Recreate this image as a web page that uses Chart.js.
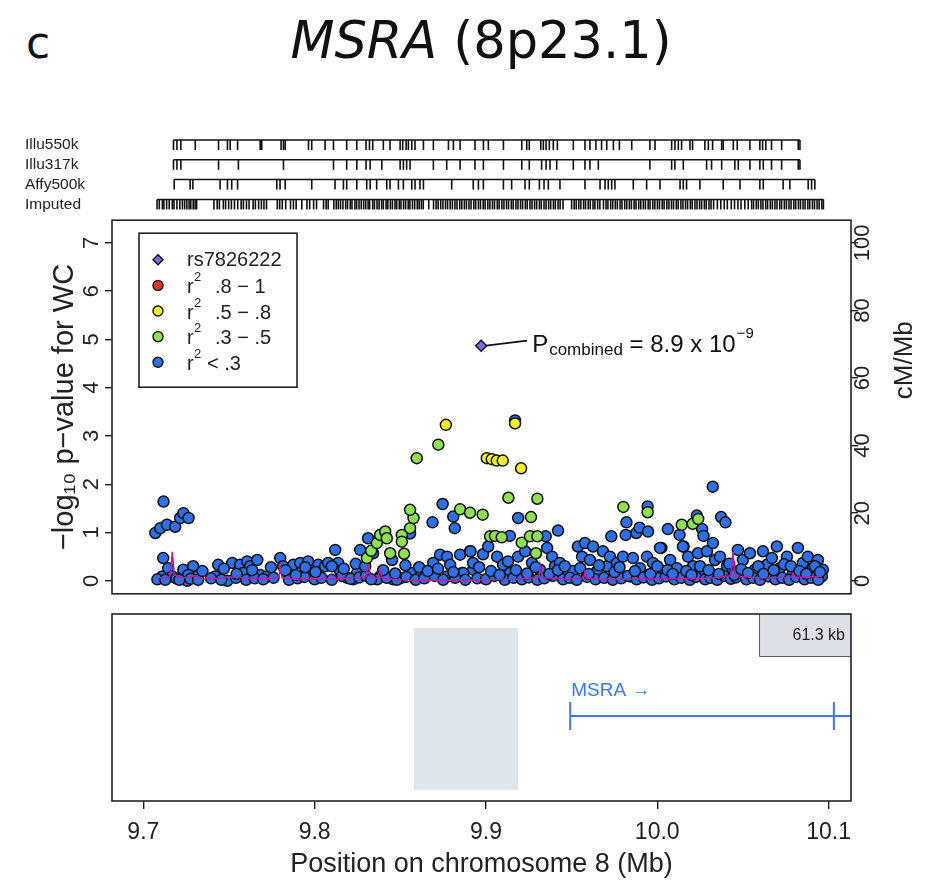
<!DOCTYPE html>
<html>
<head>
<meta charset="utf-8">
<script src="https://cdn.jsdelivr.net/npm/chart.js@4.4.1/dist/chart.umd.min.js"></script>
<style>
  body { margin: 0; background: #fff; width: 935px; height: 885px; position: relative; overflow: hidden; font-family: 'DejaVu Sans', Verdana, sans-serif; color: #111; }
  .panel { position: absolute; left: 0; width: 935px; }
  #panelLabel { position: absolute; left: 26px; top: 17px; font-size: 44px; }
  #title { position: absolute; left: 0; width: 962px; top: 11px; text-align: center; font-size: 51px; }
</style>
</head>
<body>
<div id="panelLabel">c</div>
<div id="title"><i>MSRA</i> (8p23.1)</div>
<div class="panel" style="top:115px;height:111px"><canvas id="tracks" width="935" height="111"></canvas></div>
<div class="panel" style="top:200px;height:414px"><canvas id="assoc" width="935" height="414"></canvas></div>
<div class="panel" style="top:600px;height:285px"><canvas id="genes" width="935" height="285"></canvas></div>
<script>
// ---- data ----
const trackNames = ['Illu550k', 'Illu317k', 'Affy500k', 'Imputed'];

const illu550k = [9.7176, 9.7196, 9.7219, 9.7303, 9.7439, 9.7491, 9.7507, 9.7550, 9.7682, 9.7691,
  9.7804, 9.7818, 9.7828, 9.7964, 9.7983, 9.8061, 9.8110, 9.8187, 9.8246, 9.8300, 9.8320, 9.8339,
  9.8401, 9.8440, 9.8499, 9.8514, 9.8534, 9.8547, 9.8567, 9.8586, 9.8635, 9.8693, 9.8781, 9.8810,
  9.8849, 9.8936, 9.8985, 9.9014, 9.9102, 9.9209, 9.9238, 9.9253, 9.9320, 9.9335, 9.9351, 9.9370,
  9.9393, 9.9417, 9.9510, 9.9578, 9.9607, 9.9642, 9.9675, 9.9705, 9.9744, 9.9779, 9.9851, 9.9957,
  9.9987, 10.0084, 10.0103, 10.0123, 10.0142, 10.0191, 10.0206, 10.0278, 10.0298, 10.0323, 10.0376,
  10.0385, 10.0444, 10.0467, 10.0541, 10.0599, 10.0615, 10.0634, 10.0667, 10.0726, 10.0823, 10.0833];

const illu317k = [9.7176, 9.7196, 9.7219, 9.7439, 9.7555, 9.7818, 9.8110, 9.8187, 9.8246, 9.8300,
  9.8324, 9.8392, 9.8499, 9.8518, 9.8537, 9.8557, 9.8693, 9.8771, 9.8849, 9.8936, 9.8985, 9.9102,
  9.9209, 9.9253, 9.9325, 9.9351, 9.9374, 9.9413, 9.9510, 9.9578, 9.9607, 9.9656, 9.9957, 10.0084,
  10.0103, 10.0152, 10.0288, 10.0317, 10.0376, 10.0453, 10.0473, 10.0541, 10.0599, 10.0619, 10.0667,
  10.0726, 10.0823, 10.0833];

const affy500k = [9.7180, 9.7273, 9.7289, 9.7448, 9.7491, 9.7516, 9.7550, 9.7779, 9.7798, 9.7828,
  9.7983, 9.8119, 9.8168, 9.8187, 9.8246, 9.8304, 9.8324, 9.8362, 9.8421, 9.8440, 9.8489, 9.8518,
  9.8567, 9.8586, 9.8615, 9.8635, 9.8800, 9.8926, 9.8956, 9.8985, 9.9102, 9.9150, 9.9228, 9.9253,
  9.9312, 9.9339, 9.9364, 9.9432, 9.9578, 9.9666, 9.9695, 9.9714, 9.9734, 9.9753, 9.9860, 9.9938,
  10.0016, 10.0133, 10.0152, 10.0171, 10.0249, 10.0385, 10.0483, 10.0599, 10.0619, 10.0735, 10.0774,
  10.0881, 10.0901, 10.0920];

const imputed = [9.7080, 9.7093, 9.7111, 9.7120, 9.7136, 9.7151, 9.7169, 9.7179, 9.7196, 9.7213,
  9.7228, 9.7241, 9.7254, 9.7267, 9.7277, 9.7291, 9.7302, 9.7311,
  9.7412, 9.7431, 9.7444, 9.7467, 9.7480, 9.7498, 9.7514, 9.7532, 9.7551, 9.7571, 9.7584, 9.7602,
  9.7617, 9.7641, 9.7654, 9.7673, 9.7689, 9.7704, 9.7719,
  9.7782, 9.7796, 9.7811, 9.7831, 9.7859, 9.7876, 9.7892, 9.7925, 9.7955, 9.7971, 9.7994, 9.8011,
  9.8052, 9.8067, 9.8079,
  9.8112, 9.8126, 9.8138, 9.8151, 9.8165, 9.8181, 9.8192, 9.8208, 9.8218, 9.8235, 9.8245, 9.8259,
  9.8272, 9.8286, 9.8298, 9.8312, 9.8321, 9.8339, 9.8349, 9.8364, 9.8376, 9.8391, 9.8401, 9.8417,
  9.8427, 9.8442, 9.8454, 9.8469, 9.8479, 9.8494, 9.8504, 9.8519, 9.8531, 9.8546, 9.8556, 9.8571,
  9.8584, 9.8599, 9.8610, 9.8623, 9.8634,
  9.8666, 9.8694, 9.8709, 9.8721, 9.8736, 9.8749, 9.8764, 9.8776, 9.8791, 9.8804, 9.8819, 9.8831,
  9.8847, 9.8859, 9.8874, 9.8886, 9.8901, 9.8913, 9.8929, 9.8940, 9.8956, 9.8968, 9.8984, 9.8995,
  9.9011, 9.9023, 9.9038, 9.9050, 9.9066, 9.9077, 9.9093, 9.9105, 9.9120, 9.9132, 9.9148, 9.9159,
  9.9175, 9.9187, 9.9202, 9.9214, 9.9230, 9.9241, 9.9257, 9.9269, 9.9284, 9.9296, 9.9312, 9.9323,
  9.9339, 9.9351, 9.9366, 9.9378, 9.9394, 9.9405, 9.9421, 9.9433, 9.9450,
  9.9500, 9.9515, 9.9527, 9.9542, 9.9554, 9.9570, 9.9581, 9.9597, 9.9609, 9.9625, 9.9636, 9.9652,
  9.9665,
  9.9686, 9.9701, 9.9712, 9.9728, 9.9740, 9.9755, 9.9767, 9.9783, 9.9794, 9.9810, 9.9822, 9.9837,
  9.9849, 9.9865, 9.9876, 9.9892, 9.9904, 9.9919, 9.9931, 9.9947, 9.9958, 9.9974, 9.9986, 10.0001,
  10.0013, 10.0029, 10.0040, 10.0056, 10.0068, 10.0083, 10.0095, 10.0111, 10.0122, 10.0138, 10.0150,
  10.0165, 10.0177, 10.0193, 10.0204, 10.0220, 10.0232, 10.0247, 10.0259, 10.0275, 10.0286, 10.0302,
  10.0314, 10.0329, 10.0351, 10.0371, 10.0391, 10.0409, 10.0432, 10.0451, 10.0471, 10.0489, 10.0511,
  10.0531, 10.0551, 10.0562, 10.0578, 10.0590, 10.0605, 10.0617, 10.0633, 10.0644, 10.0660, 10.0672,
  10.0687, 10.0699, 10.0715, 10.0726, 10.0742, 10.0754, 10.0769, 10.0781, 10.0797, 10.0808, 10.0824,
  10.0836, 10.0851, 10.0863, 10.0879, 10.0890, 10.0906, 10.0918, 10.0933, 10.0945, 10.0961, 10.0970];

const trackPositions = [illu550k, illu317k, affy500k, imputed];

// association results: [position Mb, -log10 p]
const leadSnp = [[9.8972, 4.87]];

const ldHigh = [];   // r2 .8 - 1 (none in this region)

const ldMidHigh = [[9.8766, 3.23], [9.9170, 3.26], [9.9005, 2.54], [9.9034, 2.52], [9.9063, 2.49],
  [9.9098, 2.49], [9.9205, 2.33]];

const ldMid = [[9.8305, 0.47], [9.8330, 0.62], [9.8363, 0.78], [9.8382, 0.95], [9.8412, 1.02],
  [9.8421, 0.88], [9.8441, 0.57], [9.8509, 0.95], [9.8509, 0.81], [9.8522, 0.56], [9.8557, 1.09],
  [9.8577, 1.30], [9.8557, 1.47], [9.8596, 2.54], [9.8722, 2.82], [9.8849, 1.48], [9.8907, 1.41],
  [9.8981, 1.37], [9.9024, 0.92], [9.9053, 0.93], [9.9092, 0.90], [9.9131, 1.72], [9.9209, 0.79],
  [9.9257, 0.92], [9.9263, 1.32], [9.9292, 0.57], [9.9300, 1.70], [9.9300, 0.92], [9.9802, 1.53],
  [9.9944, 1.42], [10.0143, 1.16], [10.0207, 1.18], [10.0239, 1.28]];

const ldLow = [
  [9.7070, 0.99], [9.7099, 1.09], [9.7118, 1.64], [9.7138, 1.16], [9.7186, 1.12], [9.7215, 1.30],
  [9.7234, 1.40], [9.7264, 1.30], [9.8120, 0.64], [9.8266, 0.64], [9.8312, 0.88], [9.8557, 0.98],
  [9.8688, 1.21], [9.8747, 1.59], [9.8809, 1.33], [9.8818, 1.09], [9.9170, 3.32], [9.9188, 1.30],
  [9.9139, 0.93], [9.9349, 0.92], [9.9421, 1.04], [9.9732, 0.92], [9.9816, 0.95], [9.9820, 1.21],
  [9.9878, 0.99], [9.9897, 1.10], [9.9944, 1.54], [9.9946, 1.02], [10.0062, 1.07], [10.0130, 0.95],
  [10.0231, 1.35], [10.0262, 1.07], [10.0270, 0.93], [10.0324, 1.95], [10.0373, 1.32], [10.0398, 1.21],
  [10.0024, 0.68], [10.0154, 0.71],
  [9.7116, 0.47], [9.7110, 0.09], [9.7145, 0.26], [9.7169, 0.09], [9.7233, 0.23], [9.7256, 0.00],
  [9.7291, 0.30], [9.7303, 0.09], [9.7262, 0.12], [9.7437, 0.33], [9.7420, 0.09], [9.7490, 0.00],
  [9.7519, 0.37], [9.7565, 0.33], [9.7606, 0.40], [9.7624, 0.30], [9.7665, 0.43], [9.7583, 0.16],
  [9.7682, 0.12], [9.7723, 0.09], [9.7799, 0.47], [9.7816, 0.30], [9.7840, 0.16], [9.7875, 0.33],
  [9.7916, 0.37], [9.7962, 0.40], [9.7986, 0.16], [9.8021, 0.33], [9.8061, 0.30], [9.8079, 0.37],
  [9.8137, 0.37], [9.8149, 0.20], [9.8190, 0.06], [9.8225, 0.03], [9.8277, 0.23], [9.8341, 0.57],
  [9.8248, 0.16], [9.8452, 0.43], [9.8569, 0.16], [9.8616, 0.09], [9.8692, 0.37], [9.8732, 0.54],
  [9.8773, 0.50], [9.8791, 0.33], [9.8849, 0.54], [9.8907, 0.61], [9.8773, 0.09], [9.8861, 0.16],
  [9.8925, 0.23], [9.8499, 0.05], [9.8458, 0.03], [9.8382, 0.09], [9.8365, 0.03],
  [9.8867, 0.16], [9.8910, 0.61], [9.8925, 0.37], [9.8983, 0.55], [9.9013, 0.71], [9.9065, 0.50],
  [9.9100, 0.33], [9.9129, 0.40], [9.9141, 0.16], [9.9188, 0.50], [9.9229, 0.61], [9.9269, 0.37],
  [9.9316, 0.23], [9.9357, 0.68], [9.9386, 0.50], [9.9403, 0.30], [9.9432, 0.37], [9.9473, 0.16],
  [9.9508, 0.20], [9.9537, 0.71], [9.9561, 0.50], [9.9578, 0.78], [9.9607, 0.43], [9.9625, 0.71],
  [9.9648, 0.20], [9.9683, 0.61], [9.9707, 0.30], [9.9724, 0.50], [9.9765, 0.37], [9.9800, 0.50],
  [9.9841, 0.09], [9.9858, 0.47], [9.9899, 0.26], [9.9940, 0.50], [9.9975, 0.37], [10.0016, 0.68],
  [10.0034, 0.20], [10.0075, 0.43], [10.0115, 0.26], [10.0150, 0.71], [10.0180, 0.50], [10.0209, 0.30],
  [10.0238, 0.57], [10.0261, 0.16], [10.0290, 0.61], [10.0325, 0.78], [10.0337, 0.43], [10.0366, 0.50],
  [10.0407, 0.30], [10.0442, 0.20], [10.0471, 0.64], [10.0500, 0.43], [10.0541, 0.57], [10.0570, 0.23],
  [10.0617, 0.61], [10.0640, 0.33], [10.0669, 0.47], [10.0698, 0.71], [10.0716, 0.26], [10.0757, 0.50],
  [10.0792, 0.16], [10.0821, 0.68], [10.0850, 0.37], [10.0879, 0.50], [10.0908, 0.26], [10.0938, 0.43],
  [10.0967, 0.23], [10.0961, 0.09],
  [9.7082, 0.03], [9.7128, 0.02], [9.7192, 0.05], [9.7210, 0.02], [9.7275, 0.04], [9.7320, 0.02],
  [9.7395, 0.05], [9.7455, 0.02], [9.7540, 0.06], [9.7600, 0.02], [9.7650, 0.05], [9.7700, 0.03],
  [9.7760, 0.06], [9.7850, 0.02], [9.7900, 0.05], [9.7940, 0.08], [9.8000, 0.03], [9.8040, 0.06],
  [9.8100, 0.02], [9.8160, 0.10], [9.8210, 0.04], [9.8260, 0.07], [9.8300, 0.10], [9.8330, 0.03],
  [9.8420, 0.06], [9.8480, 0.02], [9.8535, 0.08], [9.8590, 0.02], [9.8640, 0.05], [9.8700, 0.10],
  [9.8750, 0.02], [9.8820, 0.06], [9.8880, 0.02], [9.8950, 0.05], [9.9000, 0.03], [9.9050, 0.10],
  [9.9110, 0.02], [9.9160, 0.06], [9.9210, 0.03], [9.9250, 0.07], [9.9300, 0.02], [9.9340, 0.05],
  [9.9390, 0.10], [9.9450, 0.03], [9.9490, 0.06], [9.9530, 0.02], [9.9590, 0.08], [9.9640, 0.03],
  [9.9690, 0.06], [9.9740, 0.02], [9.9790, 0.05], [9.9830, 0.10], [9.9880, 0.03], [9.9920, 0.07],
  [9.9970, 0.02], [10.0010, 0.05], [10.0050, 0.09], [10.0100, 0.03], [10.0140, 0.06], [10.0190, 0.02],
  [10.0225, 0.08], [10.0280, 0.03], [10.0310, 0.06], [10.0350, 0.02], [10.0390, 0.10], [10.0430, 0.04],
  [10.0460, 0.07], [10.0520, 0.03], [10.0560, 0.06], [10.0600, 0.02], [10.0650, 0.09], [10.0690, 0.03],
  [10.0730, 0.06], [10.0770, 0.02], [10.0810, 0.08], [10.0860, 0.03], [10.0900, 0.06], [10.0940, 0.02],
  [9.7345, 0.20], [9.7470, 0.25], [9.7545, 0.14], [9.7635, 0.22], [9.7745, 0.28], [9.7830, 0.22],
  [9.7890, 0.12], [9.7945, 0.28], [9.8005, 0.18], [9.8100, 0.30], [9.8170, 0.25], [9.8240, 0.35],
  [9.8295, 0.30], [9.8400, 0.22], [9.8470, 0.15], [9.8530, 0.32], [9.8610, 0.28], [9.8660, 0.20],
  [9.8720, 0.25], [9.8810, 0.18], [9.8960, 0.28], [9.9030, 0.20], [9.9080, 0.12], [9.9175, 0.22],
  [9.9240, 0.15], [9.9290, 0.28], [9.9370, 0.14], [9.9420, 0.22], [9.9460, 0.30], [9.9550, 0.26],
  [9.9600, 0.14], [9.9660, 0.32], [9.9750, 0.18], [9.9780, 0.28], [9.9870, 0.20], [9.9960, 0.14],
  [10.0000, 0.30], [10.0060, 0.22], [10.0090, 0.14], [10.0170, 0.20], [10.0200, 0.12], [10.0250, 0.30],
  [10.0300, 0.22], [10.0360, 0.14], [10.0420, 0.35], [10.0450, 0.12], [10.0490, 0.24], [10.0530, 0.16],
  [10.0590, 0.30], [10.0620, 0.14], [10.0680, 0.22], [10.0740, 0.34], [10.0780, 0.30], [10.0830, 0.20],
  [10.0870, 0.14], [10.0920, 0.30], [10.0950, 0.18]];

// recombination rate: [position Mb, cM/Mb]
const recombRate = [[9.7070, 0.8], [9.7150, 1.0], [9.7160, 2.5], [9.7169, 8.6], [9.7180, 2.0],
  [9.7200, 1.2], [9.7250, 0.9], [9.7300, 1.5], [9.7340, 0.6], [9.7400, 0.5], [9.7500, 1.2],
  [9.7600, 0.8], [9.7700, 0.6], [9.7790, 1.0], [9.7799, 3.9], [9.7810, 0.9], [9.7900, 0.4],
  [9.8000, 0.6], [9.8100, 0.5], [9.8200, 0.8], [9.8300, 1.2], [9.8312, 5.7], [9.8325, 1.0],
  [9.8370, 0.8], [9.8382, 3.3], [9.8395, 0.7], [9.8500, 0.3], [9.8600, 0.2], [9.8800, 0.2],
  [9.9000, 0.3], [9.9200, 0.5], [9.9310, 1.0], [9.9316, 4.7], [9.9330, 1.0], [9.9450, 0.5],
  [9.9570, 0.6], [9.9578, 2.9], [9.9590, 0.7], [9.9700, 0.4], [9.9900, 0.5], [10.0100, 0.6],
  [10.0300, 0.8], [10.0430, 1.5], [10.0442, 8.6], [10.0455, 1.5], [10.0600, 0.8], [10.0780, 1.0],
  [10.0792, 2.2], [10.0805, 1.0], [10.0900, 1.2], [10.0961, 1.3]];

const legendText = ['rs7826222', '.8 \u2212 1', '.5 \u2212 .8', '.3 \u2212 .5', '< .3'];
const legendColors = ['#7e68e6', '#e8321e', '#f1ee2a', '#8fe052', '#2f6fe8'];
const pvalueNote = ['P', 'combined', ' = 8.9 x 10', '\u22129'];
const rightAxisTitle = 'cM/Mb';

// gene panel
const shadedRegion = [9.858, 9.919];
const geneName = 'MSRA';
const geneStart = 9.9492;
const geneExons = [9.9492, 10.1031];
const scaleBox = [10.060, 10.1131];
const scaleLabel = '61.3 kb';

const xTicks = [9.7, 9.8, 9.9, 10.0, 10.1];

// ---- shared settings ----
const xMin = 9.6817, xMax = 10.1131;
const FONT = "'Liberation Sans', Arial, Helvetica, sans-serif";
Chart.defaults.font.family = FONT;
Chart.defaults.color = '#222';
Chart.defaults.animation = false;
Chart.defaults.responsive = false;
Chart.defaults.plugins.legend.display = false;
Chart.defaults.plugins.tooltip.enabled = false;

const toXY = arr => arr.map(([x, y]) => ({x, y}));

// draws the box round a panel
const frame = {
  id: 'frame',
  afterDatasetsDraw(chart) {
    const {ctx, chartArea: a} = chart;
    ctx.save();
    ctx.strokeStyle = '#222';
    ctx.lineWidth = 1.6;
    ctx.strokeRect(a.left, a.top, a.right - a.left, a.bottom - a.top);
    ctx.restore();
  }
};

// ---- marker tracks ----
const trackSets = [];
trackPositions.forEach((pos, r) => {
  trackSets.push({
    data: [{x: pos[0], y: r}, {x: pos[pos.length - 1], y: r}],
    showLine: true, borderColor: '#111', borderWidth: 1.5, pointRadius: 0
  });
  trackSets.push({
    data: pos.map(p => ({x: p, y: r + 0.2525})),
    pointStyle: 'line', rotation: 90, pointRadius: 5,
    pointBorderColor: '#111', pointBorderWidth: 1.6
  });
});

new Chart(document.getElementById('tracks'), {
  type: 'scatter',
  data: { datasets: trackSets },
  options: {
    layout: { padding: { left: 25, right: 84, top: 15, bottom: 12 } },
    scales: {
      x: { type: 'linear', min: xMin, max: xMax, display: false },
      y: {
        type: 'linear', reverse: true, min: -0.505, max: 3.737,
        afterBuildTicks: s => { s.ticks = trackNames.map((n, i) => ({ value: i + 0.2525 })); },
        afterFit: s => { s.width = 87; },
        grid: { display: false }, border: { display: false },
        ticks: { crossAlign: 'far', padding: 0, font: { size: 15.5 }, color: '#222', callback: (v, i) => trackNames[i] }
      }
    }
  }
});

// ---- association panel ----
const insideLegend = {
  id: 'insideLegend',
  afterDraw(chart) {
    const {ctx, chartArea} = chart;
    const left = chartArea.left + 27, top = chartArea.top + 13;
    ctx.save();
    ctx.fillStyle = '#fff';
    ctx.fillRect(left, top, 158, 154);
    ctx.strokeStyle = '#222';
    ctx.lineWidth = 1.6;
    ctx.strokeRect(left, top, 158, 154);
    legendText.forEach((txt, i) => {
      const y = top + 26.6 + i * 25.6;
      ctx.fillStyle = legendColors[i];
      ctx.strokeStyle = '#111';
      ctx.lineWidth = 1.4;
      Chart.helpers.drawPoint(ctx, { pointStyle: i === 0 ? 'rectRot' : 'circle', radius: 5, borderWidth: 1.4 }, left + 19, y);
      ctx.fillStyle = '#222';
      ctx.textBaseline = 'middle';
      ctx.font = '20px ' + FONT;
      if (i === 0) {
        ctx.fillText(txt, left + 48, y + 1);
      } else {
        ctx.fillText('r', left + 48, y + 2);
        ctx.font = '13px ' + FONT;
        ctx.fillText('2', left + 55, y - 8);
        ctx.font = '20px ' + FONT;
        ctx.fillText(txt, left + (txt[0] === '<' ? 68 : 76), y + 2);
      }
    });
    // right axis title, read from bottom to top
    ctx.save();
    ctx.translate(chartArea.right + 54, chartArea.top + 140);
    ctx.rotate(-Math.PI / 2);
    ctx.fillStyle = '#222';
    ctx.font = '26px ' + FONT;
    ctx.textAlign = 'center';
    ctx.textBaseline = 'middle';
    ctx.fillText(rightAxisTitle, 0, 0);
    ctx.restore();
    ctx.restore();
  }
};

const leadNote = {
  id: 'leadNote',
  afterDatasetsDraw(chart) {
    const {ctx, scales: {x, y}} = chart;
    const px = x.getPixelForValue(leadSnp[0][0]);
    const py = y.getPixelForValue(leadSnp[0][1]);
    ctx.save();
    ctx.strokeStyle = '#111';
    ctx.lineWidth = 1.8;
    ctx.beginPath();
    ctx.moveTo(px + 5, py);
    ctx.lineTo(px + 46, py - 5);
    ctx.stroke();
    ctx.fillStyle = '#111';
    ctx.textBaseline = 'alphabetic';
    const base = py + 6;
    let tx = px + 51;
    ctx.font = '24px ' + FONT;
    ctx.fillText(pvalueNote[0], tx, base);
    tx += ctx.measureText(pvalueNote[0]).width + 1;
    ctx.font = '17px ' + FONT;
    ctx.fillText(pvalueNote[1], tx, base + 3);
    tx += ctx.measureText(pvalueNote[1]).width;
    ctx.font = '24px ' + FONT;
    ctx.fillText(pvalueNote[2], tx, base);
    tx += ctx.measureText(pvalueNote[2]).width + 1;
    ctx.font = '15px ' + FONT;
    ctx.fillText(pvalueNote[3], tx, base - 14);
    ctx.restore();
  }
};

const dot = (data, color) => ({
  data: toXY(data), pointRadius: 5.5, pointBackgroundColor: color,
  pointBorderColor: '#111', pointBorderWidth: 1.5
});

new Chart(document.getElementById('assoc'), {
  type: 'scatter',
  data: {
    datasets: [
      { data: toXY(leadSnp), pointStyle: 'rectRot', pointRadius: 5.5, pointBackgroundColor: legendColors[0],
        pointBorderColor: '#111', pointBorderWidth: 1.4 },
      dot(ldHigh, legendColors[1]),
      dot(ldMidHigh, legendColors[2]),
      dot(ldMid, legendColors[3]),
      { data: toXY(recombRate), yAxisID: 'y2', showLine: true, borderColor: '#b3259f', borderWidth: 1.6,
        pointRadius: 0 },
      dot(ldLow, legendColors[4])
    ]
  },
  options: {
    layout: { padding: { left: 0, right: 0, top: 20, bottom: 20 } },
    scales: {
      x: { type: 'linear', min: xMin, max: xMax, display: false },
      y: {
        position: 'left', min: -0.27, max: 7.47,
        afterBuildTicks: s => { s.ticks = [0, 1, 2, 3, 4, 5, 6, 7].map(v => ({ value: v })); },
        afterFit: s => { s.width = 112; },
        grid: { drawOnChartArea: false, tickLength: 7, color: '#222', lineWidth: 1.4 },
        border: { display: false },
        ticks: { font: { size: 22 }, color: '#222', crossAlign: 'center', minRotation: 90, maxRotation: 90,
          padding: 7, autoSkip: false },
        title: { display: true, text: '\u2212log\u2081\u2080 p\u2212value for WC', font: { size: 29 },
          color: '#222', padding: { top: 48 } }
      },
      y2: {
        position: 'right', min: -3.857, max: 106.714,
        afterBuildTicks: s => { s.ticks = [0, 20, 40, 60, 80, 100].map(v => ({ value: v })); },
        afterFit: s => { s.width = 84; },
        grid: { drawOnChartArea: false, tickLength: 7, color: '#222', lineWidth: 1.4 },
        border: { display: false },
        ticks: { font: { size: 22 }, color: '#222', crossAlign: 'center', minRotation: 90, maxRotation: 90,
          padding: -13, autoSkip: false }
      }
    }
  },
  plugins: [frame, insideLegend, leadNote]
});

// ---- gene panel ----
const geneLabels = {
  id: 'geneLabels',
  afterDatasetsDraw(chart) {
    const {ctx, scales: {x, y}} = chart;
    ctx.save();
    ctx.fillStyle = '#3a78f2';
    ctx.font = '19px ' + FONT;
    ctx.textBaseline = 'middle';
    ctx.fillText(geneName + ' \u2192', x.getPixelForValue(geneStart) + 1, y.getPixelForValue(0.59));
    ctx.fillStyle = '#222';
    ctx.font = '16px ' + FONT;
    ctx.textAlign = 'right';
    ctx.fillText(scaleLabel, x.getPixelForValue(scaleBox[1]) - 6, y.getPixelForValue(0.885));
    ctx.restore();
  }
};

const gy = 0.4545;   // gene row
new Chart(document.getElementById('genes'), {
  type: 'scatter',
  data: {
    datasets: [
      { data: [{x: shadedRegion[0], y: 0.925}, {x: shadedRegion[1], y: 0.925}], showLine: true,
        fill: { value: 0.06 }, backgroundColor: '#dee4eb', borderWidth: 0, pointRadius: 0 },
      { data: [{x: scaleBox[0], y: 1}, {x: scaleBox[1], y: 1}], showLine: true,
        fill: { value: 0.775 }, backgroundColor: '#dde1e7', borderWidth: 0, pointRadius: 0 },
      { data: [{x: scaleBox[0], y: 1}, {x: scaleBox[0], y: 0.775}, {x: scaleBox[1], y: 0.775}], showLine: true,
        borderColor: '#222', borderWidth: 1.5, pointRadius: 0 },
      { data: [{x: geneStart, y: gy}, {x: xMax + 0.01, y: gy}], showLine: true,
        borderColor: '#3a78f2', borderWidth: 2, pointRadius: 0 },
      ...geneExons.map(e => ({ data: [{x: e, y: gy - 0.075}, {x: e, y: gy + 0.075}], showLine: true,
        borderColor: '#3a78f2', borderWidth: 2, pointRadius: 0 }))
    ]
  },
  options: {
    layout: { padding: { left: 112, right: 84, top: 14, bottom: 0 } },
    scales: {
      x: {
        type: 'linear', min: xMin, max: xMax,
        afterBuildTicks: s => { s.ticks = xTicks.map(v => ({ value: v })); },
        afterFit: s => { s.height = 84; },
        grid: { drawOnChartArea: false, tickLength: 8, color: '#222', lineWidth: 1.4 },
        border: { display: false },
        ticks: { font: { size: 23 }, color: '#222', padding: 10, callback: v => v.toFixed(1) },
        title: { display: true, text: 'Position on chromosome 8 (Mb)', font: { size: 27 }, color: '#222',
          padding: { bottom: 4 } }
      },
      y: { min: 0, max: 1, display: false }
    }
  },
  plugins: [frame, geneLabels]
});
</script>
</body>
</html>
